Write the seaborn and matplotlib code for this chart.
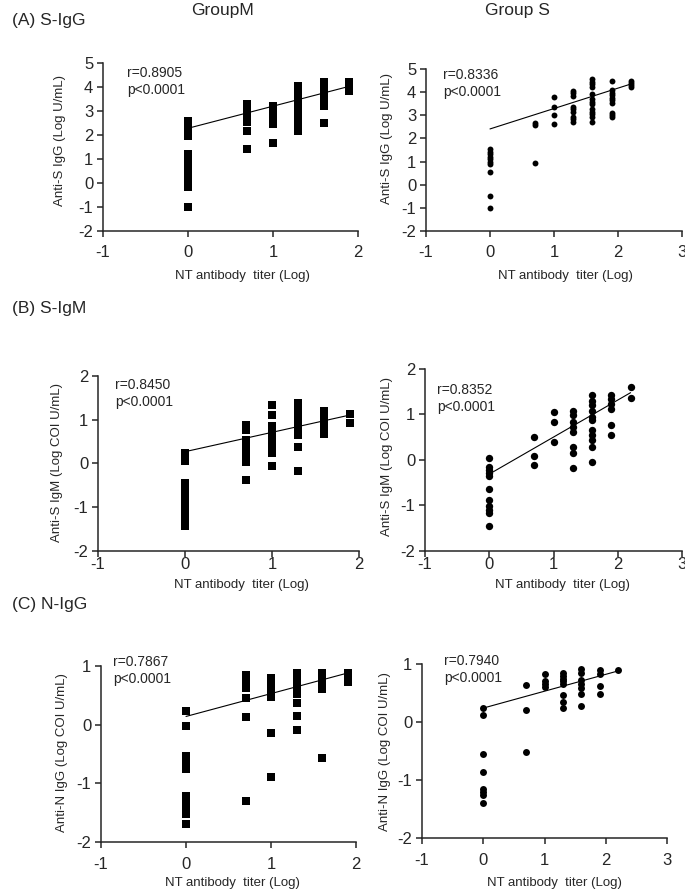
import numpy as np
import pandas as pd
import matplotlib
matplotlib.use("Agg")
import matplotlib.pyplot as plt
import seaborn as sns

# NT antibody titer (log) columns
titer_m = [0, 0.7, 1.0, 1.3, 1.6, 1.9]
titer_s = [0, 0.7, 1.0, 1.3, 1.6, 1.9, 2.2]

# (A) S-IgG
sigg_m = [
    [2.6, 2.3, 1.95, 1.2, 1.0, 0.85, 0.7, 0.55, 0.4, 0.25, 0.1, -0.05, -0.15, -1.0],
    [3.3, 3.1, 2.95, 2.75, 2.55, 2.15, 1.4],
    [3.2, 3.0, 2.8, 2.6, 2.45, 1.68],
    [4.05, 3.85, 3.65, 3.45, 3.25, 3.05, 2.85, 2.5, 2.15],
    [4.2, 4.0, 3.8, 3.6, 3.4, 3.2, 2.5],
    [4.22, 4.05, 3.85],
]
sigg_s = [
    [1.55, 1.43, 1.31, 1.2, 1.1, 0.98, 0.88, 0.55, -0.5, -1.02],
    [2.68, 2.58, 0.92],
    [3.78, 3.34, 3.03, 2.61],
    [4.05, 3.95, 3.83, 3.37, 3.26, 3.15, 2.94, 2.83, 2.72],
    [4.57, 4.45, 4.34, 4.21, 3.91, 3.69, 3.59, 3.47, 3.26, 3.15, 3.04, 2.94, 2.72],
    [4.5, 4.09, 3.98, 3.88, 3.76, 3.66, 3.54, 3.11, 3.01, 2.91],
    [4.5, 4.41, 4.32, 4.24],
]

# (B) S-IgM
sigm_m = [
    [0.25, 0.15, 0.05, -0.45, -0.55, -0.65, -0.75, -0.85, -0.95, -1.05, -1.15, -1.25, -1.35, -1.42],
    [0.88, 0.77, 0.54, 0.4, 0.27, 0.15, 0.04, -0.38],
    [1.34, 1.11, 0.86, 0.67, 0.53, 0.4, 0.25, -0.06],
    [1.38, 1.25, 1.1, 0.95, 0.8, 0.65, 0.37, -0.17],
    [1.2, 1.05, 0.9, 0.77, 0.67],
    [1.12, 0.93],
]
sigm_s = [
    [0.04, -0.15, -0.22, -0.28, -0.35, -0.63, -0.88, -1.02, -1.1, -1.17, -1.44],
    [0.51, 0.09, -0.11],
    [1.06, 0.84, 0.40],
    [1.08, 0.99, 0.84, 0.73, 0.62, 0.29, 0.15, -0.17],
    [1.43, 1.3, 1.2, 1.07, 0.95, 0.88, 0.65, 0.55, 0.45, 0.29, -0.05],
    [1.42, 1.33, 1.22, 1.13, 0.77, 0.56],
    [1.6, 1.36],
]

# (C) N-IgG
nigg_m = [
    [0.24, -0.02, -0.53, -0.62, -0.76, -1.22, -1.3, -1.38, -1.45, -1.52, -1.7],
    [0.85, 0.78, 0.7, 0.62, 0.45, 0.13, -1.3],
    [0.79, 0.69, 0.56, 0.47, -0.15, -0.89],
    [0.88, 0.78, 0.7, 0.62, 0.53, 0.37, 0.15, -0.09],
    [0.88, 0.78, 0.68, 0.6, -0.56],
    [0.88, 0.8, 0.73],
]
nigg_s = [
    [0.24, 0.12, -0.56, -0.86, -1.16, -1.2, -1.25, -1.4],
    [0.63, 0.2, -0.51],
    [0.82, 0.71, 0.66, 0.6],
    [0.84, 0.79, 0.75, 0.7, 0.66, 0.47, 0.35, 0.24],
    [0.91, 0.85, 0.72, 0.66, 0.58, 0.49, 0.28],
    [0.9, 0.83, 0.62, 0.48],
    [0.9],
]

# regression line end values (at x=0 and at last titer)
fit_sigg_m = [2.28, 4.03]
fit_sigg_s = [2.41, 4.35]
fit_sigm_m = [0.27, 1.11]
fit_sigm_s = [-0.31, 1.48]
fit_nigg_m = [0.14, 0.88]
fit_nigg_s = [0.24, 0.88]

r_text = ["r=0.8905", "r=0.8336", "r=0.8450", "r=0.8352", "r=0.7867", "r=0.7940"]
ylabels = ["Anti-S IgG (Log U/mL)", "Anti-S IgM (Log COI U/mL)", "Anti-N IgG (Log COI U/mL)"]
row_titles = ["(A) S-IgG", "(B) S-IgM", "(C) N-IgG"]
xlabel = "NT antibody  titer (Log)"

sns.set_style("ticks")
plt.rcParams["font.family"] = ["Liberation Sans", "DejaVu Sans"]
plt.rcParams["axes.unicode_minus"] = False

W, H = 685, 892
fig = plt.figure(figsize=(W / 100, H / 100), dpi=100)


def frame(d):
    rows = []
    for x, ys in zip(d[0], d[1]):
        for y in ys:
            rows.append((x, y))
    return pd.DataFrame(rows, columns=["x", "y"])


# pixel boxes: left, right, top, bottom
panels = [
    dict(box=(103, 358, 63, 231), titer=titer_m, vals=sigg_m, fit=fit_sigg_m, marker="s", s=32,
         xlim=(-1, 2), ylim=(-2, 5), rt=(127, 66), yl=(60, 140), xl=(242, 276), xpad=6),
    dict(box=(426, 682, 69, 231), titer=titer_s, vals=sigg_s, fit=fit_sigg_s, marker="o", s=18,
         xlim=(-1, 3), ylim=(-2, 5), rt=(443, 68), yl=(387, 138), xl=(565, 276), xpad=6),
    dict(box=(98, 359, 376, 551), titer=titer_m, vals=sigm_m, fit=fit_sigm_m, marker="s", s=32,
         xlim=(-1, 2), ylim=(-2, 2), rt=(115, 378), yl=(57, 462), xl=(241, 585), xpad=0.5),
    dict(box=(425, 682, 369, 551), titer=titer_s, vals=sigm_s, fit=fit_sigm_s, marker="o", s=28,
         xlim=(-1, 3), ylim=(-2, 2), rt=(437, 383), yl=(387, 457), xl=(562, 585), xpad=0.5),
    dict(box=(101, 356, 666, 842), titer=titer_m, vals=nigg_m, fit=fit_nigg_m, marker="s", s=32,
         xlim=(-1, 2), ylim=(-2, 1), rt=(113, 655), yl=(62, 753), xl=(232, 883), xpad=6.5),
    dict(box=(422, 667, 664, 838), titer=titer_s, vals=nigg_s, fit=fit_nigg_s, marker="o", s=25,
         xlim=(-1, 3), ylim=(-2, 1), rt=(444, 654), yl=(385, 752), xl=(554, 883), xpad=6.5),
]

for i, p in enumerate(panels):
    l, r, t, b = p["box"]
    ax = fig.add_axes([l / W, 1 - b / H, (r - l) / W, (b - t) / H])
    df = frame((p["titer"], p["vals"]))
    sns.scatterplot(data=df, x="x", y="y", marker=p["marker"], s=p["s"], color="black",
                    linewidth=0, ax=ax, clip_on=False, zorder=3)
    line = pd.DataFrame({"x": [p["titer"][0], p["titer"][-1]], "y": p["fit"]})
    sns.lineplot(data=line, x="x", y="y", color="black", linewidth=0.8, ax=ax)
    ax.set_xlim(*p["xlim"])
    ax.set_ylim(*p["ylim"])
    ax.set_xticks(range(p["xlim"][0], p["xlim"][1] + 1))
    ax.set_yticks(range(p["ylim"][0], p["ylim"][1] + 1))
    ax.tick_params(labelsize=12, length=4, width=1.1, direction="out")
    ax.tick_params(axis="x", pad=p["xpad"])
    ax.tick_params(axis="y", pad=3)
    sns.despine(ax=ax)
    for sp in ["left", "bottom"]:
        ax.spines[sp].set_linewidth(1.1)
    ax.set_xlabel("")
    ax.set_ylabel("")
    # labels placed in figure pixels
    fig.text(p["xl"][0] / W, 1 - p["xl"][1] / H, xlabel, ha="center", va="center", fontsize=9.5)
    fig.text(p["yl"][0] / W, 1 - p["yl"][1] / H, ylabels[i // 2], ha="center", va="center",
             rotation=90, fontsize=9.5)
    fig.text(p["rt"][0] / W, 1 - p["rt"][1] / H, r_text[i] + "\np<0.0001", ha="left", va="top",
             fontsize=10, linespacing=1.25)

fig.text(12 / W, 1 - 20 / H, row_titles[0], ha="left", va="center", fontsize=12.5)
fig.text(12 / W, 1 - 308 / H, row_titles[1], ha="left", va="center", fontsize=12.5)
fig.text(12 / W, 1 - 605 / H, row_titles[2], ha="left", va="center", fontsize=12.5)
fig.text(223 / W, 1 - 10 / H, "GroupM", ha="center", va="center", fontsize=12.5)
fig.text(517 / W, 1 - 10 / H, "Group S", ha="center", va="center", fontsize=12.5)

fig.savefig("out.png", dpi=100)
